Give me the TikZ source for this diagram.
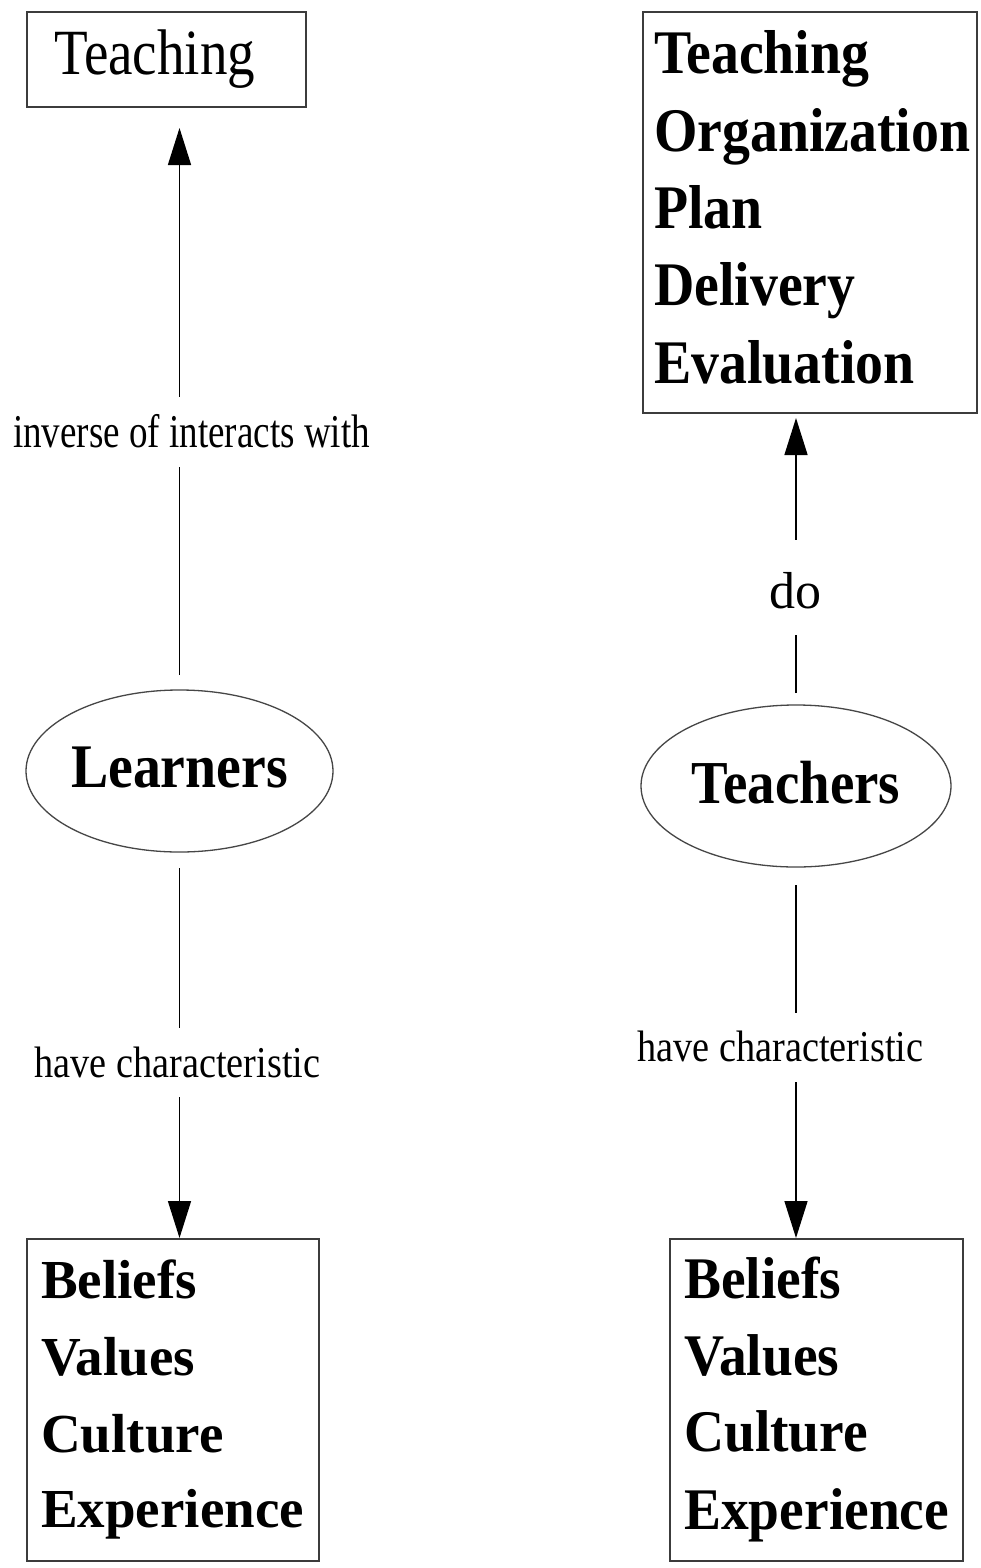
\documentclass[tikz,border=0pt]{standalone}
\usepackage{fontspec}
\setmainfont{Liberation Serif}
\usepackage{graphicx}
\usetikzlibrary{arrows.meta,shapes.geometric,calc}
\definecolor{boxgray}{RGB}{60,60,60}
\definecolor{ovalgray}{RGB}{70,70,70}
\newcommand\stxt[3]{\scalebox{#2}[1]{\fontsize{#1pt}{#1pt}\selectfont #3}}
\begin{document}
\begin{tikzpicture}[x=1pt,y=-1pt,
  box/.style={draw=boxgray,line width=2pt,inner sep=0pt,outer sep=0pt,anchor=north west},
  oval/.style={ellipse,draw=ovalgray,line width=1.3pt,inner sep=0pt,outer sep=0pt},
  conn/.style={line width=1.5pt,draw=black},
  arr/.style={conn,-{Triangle[length=37pt,width=23pt]}},
  lab/.style={inner sep=0pt,anchor=base},
  word/.style={inner sep=0pt,anchor=base west}]
\fill[white] (0,0) rectangle (980,1568);
\useasboundingbox (0,0) rectangle (980,1568);

% ---------- left column ----------
\node[box,minimum width=279pt,minimum height=95pt] (tl) at (27,12) {};
\node[word] (tlt) at (54,75) {\stxt{64.5}{0.854}{Teaching}};

\node[lab,text height=50pt,text depth=20pt] (lab1) at (191.5,447) {\stxt{47}{0.788}{inverse of interacts with}};

\node[oval,minimum width=307pt,minimum height=162pt,text height=42pt,text depth=10pt] (learners) at (179.5,771) {\stxt{62}{0.9}{\bfseries Learners}};

\node[lab,text height=49pt,text depth=20pt] (lab2) at (177.5,1077) {\stxt{44}{0.87}{have characteristic}};

\node[box,minimum width=292pt,minimum height=322pt] (bl) at (27,1239) {};
\node[word] (bl1) at (41,1298) {\stxt{55}{1.0}{\bfseries Beliefs}};
\node[word] (bl2) at (41,1375) {\stxt{55}{1.0}{\bfseries Values}};
\node[word] (bl3) at (41,1452) {\stxt{55}{1.0}{\bfseries Culture}};
\node[word] (bl4) at (41,1527) {\stxt{55}{1.0}{\bfseries Experience}};

\draw[conn,shorten <=15pt] (learners.north) -- (learners.north |- lab1.south);
\draw[arr,shorten >=21pt] (learners.north |- lab1.north) -- (tl.south -| learners.north);
\draw[conn,shorten <=16pt] (learners.south) -- (learners.south |- lab2.north);
\draw[arr,shorten >=1pt] (learners.south |- lab2.south) -- (bl.north -| learners.south);

% ---------- right column ----------
\node[box,minimum width=334pt,minimum height=401pt] (tr) at (643,12) {};
\node[word] (tr1) at (654,74) {\stxt{62}{0.9}{\bfseries Teaching}};
\node[word] (tr2) at (654,151.25) {\stxt{62}{0.9}{\bfseries Organization}};
\node[word] (tr3) at (654,228.5) {\stxt{62}{0.9}{\bfseries Plan}};
\node[word] (tr4) at (654,305.75) {\stxt{62}{0.9}{\bfseries Delivery}};
\node[word] (tr5) at (654,383) {\stxt{62}{0.9}{\bfseries Evaluation}};

\node[lab,text height=68pt,text depth=27pt] (lab3) at (795.5,608) {\stxt{52}{1.0}{do}};

\node[oval,minimum width=310pt,minimum height=162pt,text height=44pt,text depth=10pt] (teachers) at (796,786) {\stxt{61}{0.9}{\bfseries Teachers}};

\node[lab,text height=48pt,text depth=21pt] (lab4) at (780.5,1061) {\stxt{44}{0.87}{have characteristic}};

\node[box,minimum width=293pt,minimum height=322pt] (br) at (670,1239) {};
\node[word] (br1) at (684,1298) {\stxt{59}{0.94}{\bfseries Beliefs}};
\node[word] (br2) at (684,1375) {\stxt{59}{0.94}{\bfseries Values}};
\node[word] (br3) at (684,1451) {\stxt{59}{0.94}{\bfseries Culture}};
\node[word] (br4) at (684,1529) {\stxt{59}{0.94}{\bfseries Experience}};

\draw[conn,shorten <=12pt] (teachers.north) -- (teachers.north |- lab3.south);
\draw[arr,shorten >=5pt] (teachers.north |- lab3.north) -- (tr.south -| teachers.north);
\draw[conn,shorten <=18pt] (teachers.south) -- (teachers.south |- lab4.north);
\draw[arr,shorten >=1pt] (teachers.south |- lab4.south) -- (br.north -| teachers.south);
\end{tikzpicture}
\end{document}
